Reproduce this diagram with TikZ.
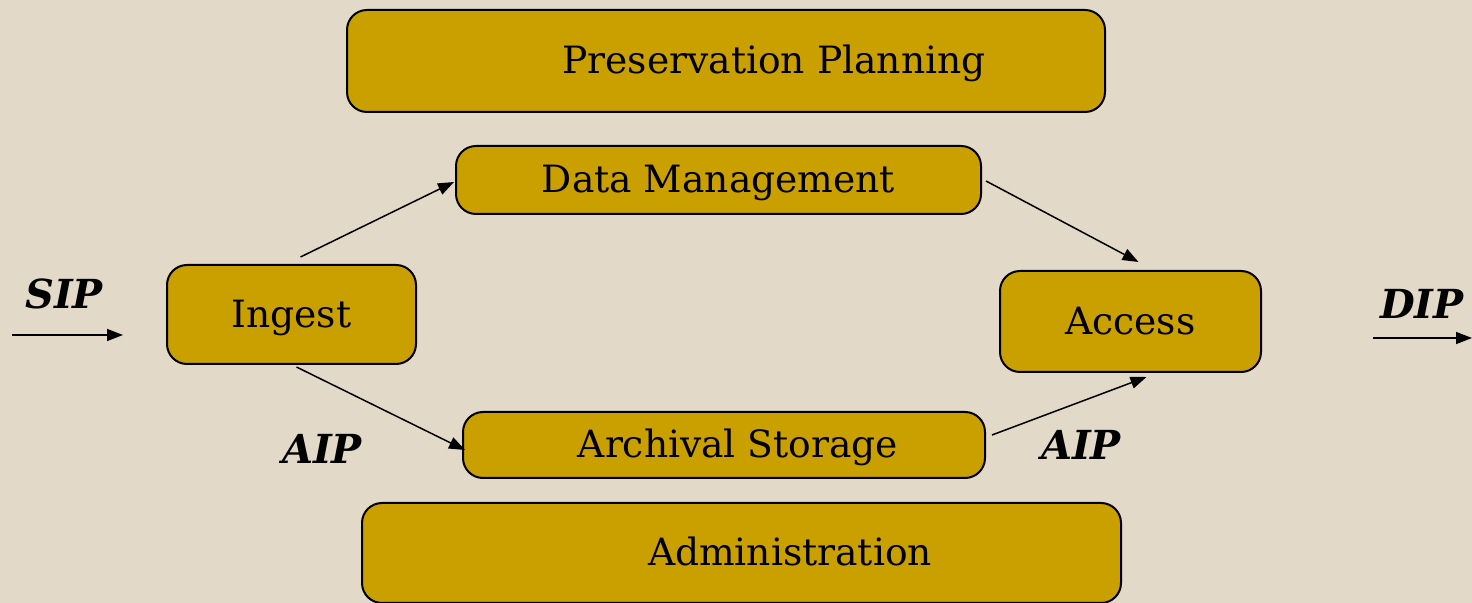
\documentclass[tikz,border=0pt]{standalone}
\usepackage{fontspec}
\setmainfont{DejaVu Serif}
\usetikzlibrary{arrows.meta,calc}
\definecolor{paper}{RGB}{227,217,201}
\definecolor{gold}{RGB}{201,160,0}
\tikzset{x=0.5pt,y=-0.5pt,
    boxtext/.style={font=\fontsize{18.8}{22}\selectfont,text height=15pt,text depth=2pt},
    oaisbox/.style={draw,line width=1pt,fill=gold,rounded corners=10pt,
        inner sep=0pt,boxtext},
    flow/.style={line width=0.75pt,-{Triangle[length=8pt,width=6pt]}},
    pkg/.style={font=\fontsize{20}{22}\selectfont\bfseries\itshape},
    }
\begin{document}
\begin{tikzpicture}
\fill[paper] (0,0) rectangle (1472,603);
\useasboundingbox (0,0) rectangle (1472,603);
% functional entities
\node[oaisbox,minimum width=379pt,minimum height=51pt] (pp) at (726,61) {};
\node[boxtext] (pptext) at (774,61) {Preservation Planning};
\node[oaisbox,minimum width=262.5pt,minimum height=34pt] (dm) at (718.5,180) {Data Management};
\node[oaisbox,minimum width=124.5pt,minimum height=49.5pt] (ingest) at (291.5,314.5) {Ingest};
\node[oaisbox,minimum width=130.5pt,minimum height=50.5pt] (access) at (1130.5,321.5) {Access};
\node[oaisbox,minimum width=261pt,minimum height=33pt] (as) at (724,445) {};
\node[boxtext] (astext) at (738,445) {Archival Storage};
\node[oaisbox,minimum width=379.5pt,minimum height=50pt] (admin) at (741.5,553) {};
\node[boxtext] (admintext) at (790,553) {Administration};
% packages in and out
\coordinate (sipin) at (12,335);
\coordinate (sipout) at (123,335);
\coordinate (dipin) at (1373,338);
\coordinate (dipout) at (1472,338);
\node[pkg] (sip) at (64,294) {SIP};
\node[pkg] (dip) at (1422,304) {DIP};
\node[pkg] (aip1) at (322,449) {AIP};
\node[pkg] (aip2) at (1081,445) {AIP};
% flows
\draw[flow] (sipin) -- (sipout);
\draw[flow] (dipin) -- (dipout);
\draw[flow] ($(ingest.north)+(9,-7)$) -- ($(dm.west)+(-1,2)$);
\draw[flow] ($(ingest.south)+(5,2)$) -- ($(as.west)+(3,5)$);
\draw[flow] ($(dm.east)+(4,1)$) -- ($(access.north)+(8,-8)$);
\draw[flow] ($(as.east)+(6,-10)$) -- ($(access.south)+(16,4)$);
\end{tikzpicture}
\end{document}
